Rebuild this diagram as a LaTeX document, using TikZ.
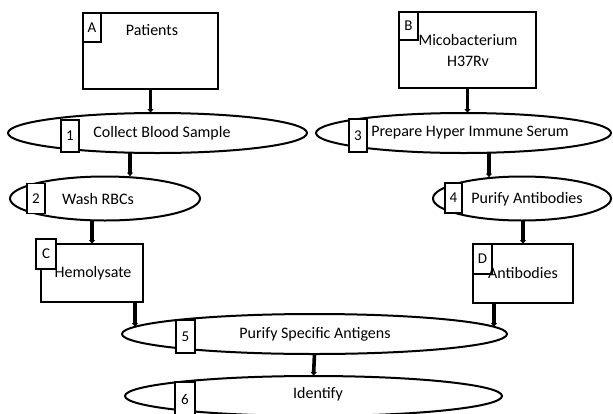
\documentclass[tikz,border=0pt]{standalone}
\usepackage{fontspec}
\setmainfont{Carlito}
\usetikzlibrary{shapes.geometric,arrows.meta}
\begin{document}
\begin{tikzpicture}[x=1pt,y=-1pt,
  box/.style={draw,line width=2pt,fill=white,rectangle,inner sep=0pt,outer sep=0pt},
  tag/.style={draw,line width=1.8pt,fill=white,rectangle,inner sep=0pt,outer sep=0pt,font=\fontsize{15}{17}\selectfont},
  oval/.style={draw,line width=2pt,fill=white,ellipse,inner sep=0pt,outer sep=0pt},
  txt/.style={inner sep=0pt,font=\fontsize{16}{21}\selectfont,align=center},
  link/.style={line width=3.6pt,-{Latex[length=4pt,width=7pt]}}]
\useasboundingbox (0,0) rectangle (613,413);
% boxes
\node[box,minimum width=135pt,minimum height=76pt] (A) at (150.5,51) {};
\node[box,minimum width=137pt,minimum height=76pt] (B) at (467.5,50) {};
\node[box,minimum width=102pt,minimum height=58pt] (C) at (92,273) {};
\node[box,minimum width=100pt,minimum height=59pt] (D) at (523,273.5) {};
% ovals
\node[oval,minimum width=299pt,minimum height=40pt] (E1) at (157.5,133) {};
\node[oval,minimum width=190pt,minimum height=44pt] (E2) at (105,198.5) {};
\node[oval,minimum width=295pt,minimum height=40pt] (E3) at (463.5,133) {};
\node[oval,minimum width=178pt,minimum height=44pt] (E4) at (522,198.5) {};
\node[oval,minimum width=385pt,minimum height=40pt] (E5) at (314.5,334) {};
\node[oval,minimum width=377pt,minimum height=40pt] (E6) at (313.5,396) {};
% tags
\node[tag,minimum width=18pt,minimum height=29pt] (tA) at (92,27.5) {A};
\node[tag,minimum width=19pt,minimum height=28pt] (tB) at (408.5,26) {B};
\node[tag,minimum width=20pt,minimum height=30pt] (tC) at (46,254) {C};
\node[tag,minimum width=19pt,minimum height=30pt] (tD) at (482.5,259) {D};
\node[tag,minimum width=18pt,minimum height=32pt] (t1) at (70,136) {1};
\node[tag,minimum width=18pt,minimum height=30pt] (t2) at (36,198.5) {2};
\node[tag,minimum width=18pt,minimum height=33pt] (t3) at (358,135.5) {3};
\node[tag,minimum width=17pt,minimum height=30pt] (t4) at (453.5,198) {4};
\node[tag,minimum width=19pt,minimum height=33pt] (t5) at (185.5,336.5) {5};
\node[tag,minimum width=20pt,minimum height=34pt] (t6) at (185,399) {6};
% texts
\node[txt] (xA) at (152,30) {Patients};
\node[txt] (xB) at (468,50.5) {Micobacterium\\H37Rv};
\node[txt] (xC) at (93,273) {Hemolysate};
\node[txt] (xD) at (523,273) {Antibodies};
\node[txt] (x1) at (162,133) {Collect Blood Sample};
\node[txt] (x2) at (98,199) {Wash RBCs};
\node[txt] (x3) at (470,133) {Prepare Hyper Immune Serum};
\node[txt] (x4) at (527,199) {Purify Antibodies};
\node[txt] (x5) at (315,334) {Purify Specific Antigens};
\node[txt] (x6) at (318,394) {Identify};
% connector helpers
\coordinate (k12) at (130,0);
\coordinate (k34) at (489,0);
\coordinate (kC5) at (135,327);
\coordinate (kD5) at (494,327);
\coordinate (k34e) at (489,177.5);
% connectors
\draw[link] (A.south) -- (A.south |- E1.north);
\draw[link] (B.south) -- (B.south |- E3.north);
\draw[link] (E1.south -| k12) -- (E2.north -| k12);
\draw[link] (C.north |- E2.south) -- (C.north);
\draw[link] (E3.south -| k34) -- (k34e);
\draw[link] (D.north |- E4.south) -- (D.north);
\draw[link] (C.south -| kC5) -- (kC5);
\draw[link] (D.south -| kD5) -- (kD5);
\draw[link] (E5.south) -- (E6.north);
\end{tikzpicture}
\end{document}
